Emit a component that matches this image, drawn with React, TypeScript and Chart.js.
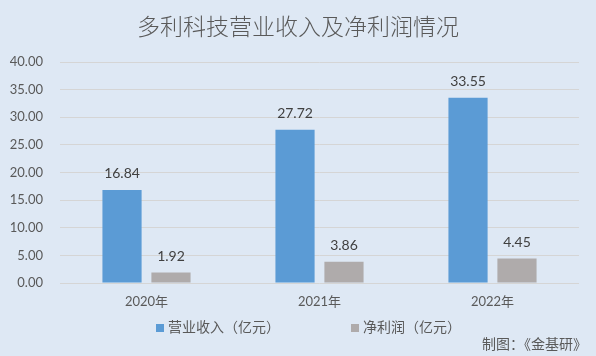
import React, { useEffect, useRef } from "react";
import { Chart, registerables } from "chart.js";

Chart.register(...registerables);

const title = "多利科技营业收入及净利润情况";
const categories = ["2020年", "2021年", "2022年"];
const revenueLabel = "营业收入（亿元）";
const profitLabel = "净利润（亿元）";
const revenue = [16.84, 27.72, 33.55];
const profit = [1.92, 3.86, 4.45];
const yTicks = [0, 5, 10, 15, 20, 25, 30, 35, 40];
const footer = "制图：《金基研》";

const BLUE = "#5b9bd5";
const GRAY = "#afabab";
const BG = "#dee8f4";
const NUM_FONT = "Lato, 'Noto Sans CJK SC', sans-serif";
const CJK_FONT = "'Noto Sans CJK SC', sans-serif";

const decorPlugin = {
  id: "decor",
  beforeDraw(chart: any) {
    const { ctx, width, height } = chart;
    ctx.save();
    ctx.fillStyle = BG;
    ctx.fillRect(0, 0, width, height);
    ctx.restore();
  },
  afterDatasetsDraw(chart: any) {
    const { ctx } = chart;
    ctx.save();
    ctx.font = `14px ${NUM_FONT}`;
    ctx.fillStyle = "#404040";
    ctx.textAlign = "center";
    ctx.textBaseline = "middle";
    chart.data.datasets.forEach((ds: any, di: number) => {
      const meta = chart.getDatasetMeta(di);
      meta.data.forEach((bar: any, i: number) => {
        ctx.fillText(Number(ds.data[i]).toFixed(2), bar.x, bar.y - 16);
      });
    });
    ctx.restore();
  },
  afterDraw(chart: any) {
    const { ctx } = chart;
    ctx.save();
    ctx.textBaseline = "middle";
    // title
    ctx.font = `300 23px ${CJK_FONT}`;
    ctx.fillStyle = "#595959";
    ctx.textAlign = "center";
    ctx.fillText(title, 298, 26);
    // legend
    ctx.font = `14px ${CJK_FONT}`;
    ctx.textAlign = "left";
    const items = [
      { label: chart.data.datasets[0].label, color: BLUE, x: 156 },
      { label: chart.data.datasets[1].label, color: GRAY, x: 351 },
    ];
    items.forEach((it) => {
      ctx.fillStyle = it.color;
      ctx.fillRect(it.x, 324, 8, 8);
      ctx.fillStyle = "#595959";
      ctx.fillText(it.label, it.x + 12, 327);
    });
    // footer
    ctx.textAlign = "right";
    ctx.fillText(footer, 587, 344);
    ctx.restore();
  },
};

export default function App() {
  const ref = useRef<HTMLCanvasElement>(null);
  useEffect(() => {
    if (!ref.current) return;
    const chart = new Chart(ref.current, {
      type: "bar",
      data: {
        labels: categories,
        datasets: [
          {
            label: revenueLabel,
            data: revenue,
            backgroundColor: BLUE,
            categoryPercentage: 0.566,
            barPercentage: 0.8,
          },
          {
            label: profitLabel,
            data: profit,
            backgroundColor: GRAY,
            categoryPercentage: 0.566,
            barPercentage: 0.8,
          },
        ],
      },
      plugins: [decorPlugin],
      options: {
        animation: false,
        responsive: false,
        devicePixelRatio: 1,
        layout: { padding: { top: 62, left: 0, right: 17, bottom: 0 } },
        plugins: {
          legend: { display: false },
          title: { display: false },
          tooltip: { enabled: false },
        },
        scales: {
          x: {
            grid: { display: false, drawTicks: false },
            border: { display: false },
            ticks: {
              padding: 11,
              color: "#595959",
              font: { size: 13, family: NUM_FONT },
            },
            afterFit(scale: any) {
              scale.height = 73;
            },
          },
          y: {
            min: 0,
            max: 40,
            afterBuildTicks(scale: any) {
              scale.ticks = yTicks.map((v) => ({ value: v }));
            },
            grid: { color: "#d5d5d5", drawTicks: false, lineWidth: 1 },
            border: { display: false },
            ticks: {
              padding: 17,
              color: "#595959",
              font: { size: 13, family: NUM_FONT },
              callback: (v: any) => Number(v).toFixed(2),
            },
            afterFit(scale: any) {
              scale.width = 60;
            },
          },
        },
      },
    });
    return () => chart.destroy();
  }, []);
  return (
    <div style={{ position: "fixed", left: 0, top: 0, width: 596, height: 356, overflow: "hidden" }}>
      <canvas ref={ref} width={596} height={356} style={{ display: "block", width: 596, height: 356 }} />
    </div>
  );
}
